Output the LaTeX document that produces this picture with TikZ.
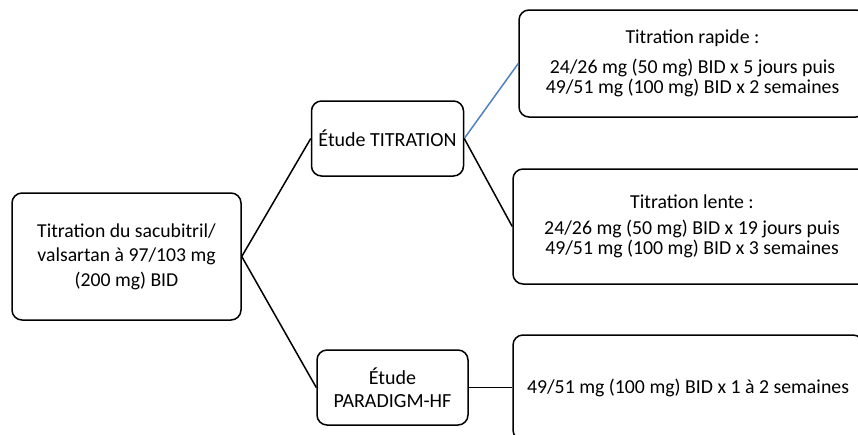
\documentclass[tikz,border=0pt]{standalone}
\usepackage{fontspec}
\setmainfont{Carlito}
\usepackage{tikz}
\usetikzlibrary{positioning}
\definecolor{lienbleu}{RGB}{79,129,189}
\tikzset{
    boite/.style={draw, line width=1.5pt, rounded corners=10pt, align=center, inner sep=2pt},
    lien/.style={line width=1.5pt},
}

\begin{document}
\begin{tikzpicture}[x=1pt, y=-1pt]
        %fix the frame
        \useasboundingbox (0, 0) rectangle (858, 434);
        \clip (0, 0) rectangle (858, 434);
        %draw left box
        \node[boite, minimum width=229pt, minimum height=127pt, font=\fontsize{19.7}{24.5}\selectfont] (titr) at (126.5, 256.5)
            {Titration du sacubitril/\\valsartan à 97/103 mg\\(200 mg) BID};
        %draw study boxes
        \node[boite, minimum width=152pt, minimum height=75pt, font=\fontsize{20}{23}\selectfont] (etudetitr) at (387.5, 138.5)
            {Étude TITRATION};
        \node[boite, minimum width=151pt, minimum height=75pt, font=\fontsize{20}{23}\selectfont] (paradigm) at (392.5, 387.5)
            {Étude\\PARADIGM-HF};
        %draw dose boxes
        \node[boite, minimum width=347pt, minimum height=107pt, font=\fontsize{19.8}{20.5}\selectfont] (rapide) at (692.5, 63.5)
            {Titration rapide :\\[9pt]24/26 mg (50 mg) BID x 5 jours puis\\49/51 mg (100 mg) BID x 2 semaines};
        \node[boite, minimum width=358pt, minimum height=115pt, font=\fontsize{19.8}{20.5}\selectfont] (lente) at (692, 226.5)
            {Titration lente :\\[5pt]24/26 mg (50 mg) BID x 19 jours puis\\49/51 mg (100 mg) BID x 3 semaines};
        \node[boite, minimum width=350pt, minimum height=105pt, font=\fontsize{19.8}{20.5}\selectfont] (dose) at (688, 387.5)
            {49/51 mg (100 mg) BID x 1 à 2 semaines};
        %draw connectors
        \draw[lien] (titr.east) -- (etudetitr.west);
        \draw[lien] (titr.east) -- (paradigm.west);
        \draw[lien, lienbleu] (etudetitr.east) -- (rapide.west);
        \draw[lien] (etudetitr.east) -- (lente.west);
        \draw[lien] (paradigm.east) -- (dose.west);
    \end{tikzpicture}
\end{document}
